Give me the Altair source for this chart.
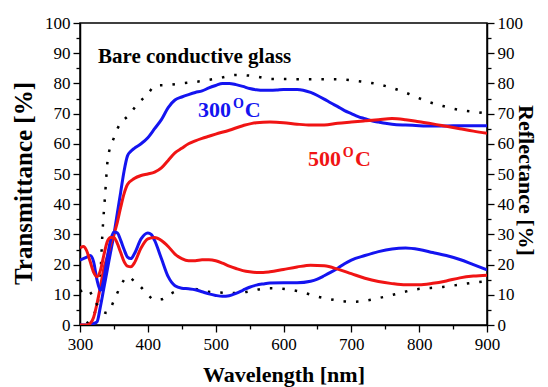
import altair as alt
import pandas as pd

# ---------------- data ----------------
wl_T300 = [300, 310, 315, 320, 325, 330, 335, 340, 345, 350, 355, 360, 365, 370, 375, 380, 390, 400,
           410, 420, 430, 440, 450, 460, 470, 480, 490, 500, 510, 520, 530, 540, 550, 560, 570, 580,
           590, 600, 620, 640, 650, 660, 670, 680, 690, 700, 710, 720, 730, 740, 750, 760, 780, 800,
           820, 840, 860, 880, 900]
T300 = [0, 0, 0.2, 0.5, 1, 6, 12, 18, 24, 30, 37, 44, 51, 56, 57.5, 58.5, 60, 62,
        65, 68, 72, 74.5, 75.5, 76.3, 77, 77.5, 78.5, 79.3, 80, 80, 79.6, 79, 78.3, 77.9, 77.7, 77.7,
        77.8, 78, 78, 77, 76, 74.8, 73.5, 72.3, 71, 70, 69, 68.3, 67.6, 67.2, 66.8, 66.5, 66.2, 66,
        65.9, 65.9, 66, 66, 66]

wl_T500 = [300, 310, 315, 320, 325, 330, 335, 340, 345, 350, 355, 360, 365, 370, 380, 390, 400, 410,
           420, 430, 440, 450, 460, 470, 480, 490, 500, 520, 540, 560, 580, 600, 620, 640, 660, 680,
           700, 720, 740, 760, 780, 800, 820, 840, 860, 880, 900]
T500 = [0, 0, 0.5, 2.5, 7, 12.5, 18.5, 22.5, 26.5, 30, 34, 39, 43.5, 46.5, 48.5, 49.5, 50, 50.6,
        52, 54.5, 57, 58.5, 60, 61, 61.8, 62.5, 63.2, 64.5, 66, 67, 67.2, 67, 66.5, 66.2, 66.2, 66.8,
        67.2, 67.6, 68, 68.4, 68, 67.3, 66.6, 65.8, 65, 64.2, 63.5]

wl_R300 = [300, 305, 310, 315, 320, 325, 330, 335, 340, 345, 350, 355, 360, 365, 370, 375, 380, 390,
           400, 405, 410, 420, 430, 440, 450, 460, 470, 480, 490, 500, 510, 520, 530, 540, 550, 560,
           570, 580, 600, 620, 640, 650, 660, 670, 680, 690, 700, 720, 740, 760, 780, 800, 820, 840,
           860, 880, 900]
R300 = [21.5, 22, 22.5, 23, 21, 15, 11.5, 15, 22, 28, 30.8, 30.5, 28, 25, 22.5, 22, 23.5, 28.5,
        30.5, 30, 28, 22, 16, 13, 12.2, 12, 11.7, 11, 10.3, 9.8, 9.5, 9.7, 10.5, 11.5, 12.5, 13.2,
        13.6, 13.9, 14, 14, 14.5, 15.2, 16.3, 17.5, 18.8, 20.3, 21.5, 23, 24.3, 25.2, 25.5, 25, 24, 23,
        21.7, 20, 18.3]

wl_R500 = [300, 305, 310, 315, 320, 325, 330, 335, 340, 345, 350, 355, 360, 365, 370, 375, 380, 390,
           400, 410, 420, 430, 440, 450, 460, 470, 480, 490, 500, 510, 520, 530, 540, 550, 560, 570,
           580, 600, 620, 640, 660, 680, 700, 720, 740, 760, 780, 800, 820, 840, 860, 880, 900]
R500 = [25.5, 26, 24.5, 21, 17.5, 16, 18, 23, 27.5, 29, 29, 27, 24, 21, 19.5, 19.3, 20.5, 25.5,
        28.5, 29, 28, 26, 23.5, 22, 21.3, 21.3, 21.6, 21.6, 21.3, 20.5, 19.5, 18.7, 18, 17.6, 17.4, 17.4,
        17.6, 18.4, 19.2, 19.8, 19.6, 18.5, 17, 15.5, 14.4, 13.7, 13.3, 13.3, 13.8, 14.6, 15.6, 16.2, 16.5]

wl_Tglass = [310, 318, 325, 330, 333, 337, 341, 350, 360, 370, 386, 400, 411, 430, 450, 480, 510,
             530, 560, 580, 625, 675, 715, 740, 760, 785, 810, 835, 860, 885, 900]
Tglass = [0.5, 3, 6, 16, 30, 43, 55, 62, 67, 69, 73.5, 76.5, 79.3, 79.5, 80, 80.8, 82,
          82.8, 82.3, 81.5, 81.4, 81.4, 80.6, 79.7, 78.5, 76.5, 74.2, 72.5, 71.2, 70.5, 70]

wl_Rglass = [300, 310, 320, 330, 340, 350, 360, 370, 380, 390, 400, 410, 420, 435, 460, 490, 530,
             580, 625, 650, 675, 700, 720, 742, 765, 790, 835, 880, 900]
Rglass = [11, 12, 9, 5, 4, 8, 13, 16, 14.5, 12.5, 10, 8.3, 8.5, 10.5, 12.2, 11, 10.6,
          12.2, 11, 9.4, 8.3, 7.7, 8, 9, 10.2, 11.6, 12.6, 14, 14.5]

x_ticks = list(range(300, 901, 50))
y_ticks = list(range(0, 101, 5))

# annotation texts
ann_text = ["Bare conductive glass", "300", "O", "C", "500", "O", "C"]
ann_x = [326.5, 474, 525.5, 543, 636.3, 687.5, 705.3]
ann_y = [86.8, 68.9, 71.9, 68.9, 52.6, 55.6, 52.6]
ann_color = ["black", "#1414f0", "#1414f0", "#1414f0", "#f01414", "#f01414", "#f01414"]
ann_size = [21, 22, 14, 22, 22, 14, 22]

FONT = "Liberation Serif"
BLUE = "#1414f0"
RED = "#f01414"


def frame(wl, val):
    return pd.DataFrame({"wl": wl, "v": val})


xscale = alt.Scale(domain=[300, 900], nice=False, zero=False)
yscale = alt.Scale(domain=[0, 100], nice=False)

tick_cond_y = {"condition": {"test": "datum.value % 10 != 0", "value": 4}, "value": 7}
tick_cond_x = {"condition": {"test": "datum.value % 100 != 0", "value": 4}, "value": 7}

common = dict(labelFont=FONT, labelFontSize=17, labelColor="black", titleFont=FONT,
              titleColor="black", titleFontWeight="bold", labelFlush=False, labelOverlap=False,
              labelBound=False)

x_enc = alt.X(
    "wl:Q", scale=xscale,
    axis=alt.Axis(values=x_ticks, title="Wavelength [nm]",
                  labelExpr="datum.value % 100 == 0 ? datum.label : ''",
                  tickSize=tick_cond_x, titlePadding=12, labelPadding=4,
                  titleFontSize=22, **common),
)

y_left = alt.Y(
    "v:Q", scale=yscale,
    axis=alt.Axis(values=y_ticks, title="Transmittance [%]", orient="left",
                  labelExpr="datum.value % 10 == 0 ? datum.label : ''",
                  tickSize=tick_cond_y, titlePadding=8, labelPadding=3,
                  titleFontSize=25, titleY=160, **common),
)
y_right = alt.Y(
    "v:Q", scale=yscale,
    axis=alt.Axis(values=y_ticks, title="Reflectance [%]", orient="right",
                  labelExpr="datum.value % 10 == 0 ? datum.label : ''",
                  tickSize=tick_cond_y, titlePadding=-9, labelPadding=3,
                  titleFontSize=22, titleY=157, **common),
)

solid = dict(strokeWidth=3, interpolate="monotone", clip=True)
dotted = dict(strokeWidth=2.5, strokeDash=[2.5, 10], color="black", interpolate="monotone", clip=True)

t_glass = alt.Chart(frame(wl_Tglass, Tglass)).mark_line(**dotted).encode(x=x_enc, y=y_left)
t_300 = alt.Chart(frame(wl_T300, T300)).mark_line(color=BLUE, **solid).encode(x=x_enc, y=y_left)
t_500 = alt.Chart(frame(wl_T500, T500)).mark_line(color=RED, **solid).encode(x=x_enc, y=y_left)

ann = pd.DataFrame({"t": ann_text, "wl": ann_x, "v": ann_y, "c": ann_color, "s": ann_size})
texts = alt.Chart(ann).mark_text(font=FONT, fontWeight="bold", align="left", baseline="alphabetic").encode(
    x=x_enc,
    y=y_left,
    text="t:N",
    color=alt.Color("c:N", scale=None),
    size=alt.Size("s:Q", scale=None),
)

left = alt.layer(t_glass, t_300, t_500, texts)

r_glass = alt.Chart(frame(wl_Rglass, Rglass)).mark_line(**dotted).encode(x=x_enc, y=y_right)
r_300 = alt.Chart(frame(wl_R300, R300)).mark_line(color=BLUE, **solid).encode(x=x_enc, y=y_right)
r_500 = alt.Chart(frame(wl_R500, R500)).mark_line(color=RED, **solid).encode(x=x_enc, y=y_right)
right = alt.layer(r_glass, r_300, r_500)

chart = (
    alt.layer(left, right)
    .resolve_scale(y="independent")
    .properties(
        width=407, height=302,
        autosize=alt.AutoSizeParams(type="none"),
        padding={"left": 72, "top": 15, "right": 53, "bottom": 62},
        background="white",
    )
    .configure_view(stroke="black", strokeWidth=1.5)
    .configure_axis(
        grid=False, domainColor="black", domainWidth=1.5, tickColor="black", tickWidth=1.3,
        labelFont=FONT, labelFontSize=17, labelColor="black", titleFont=FONT, titleColor="black",
    )
)

chart.save("out.html", embed_options={"renderer": "svg", "actions": False})
